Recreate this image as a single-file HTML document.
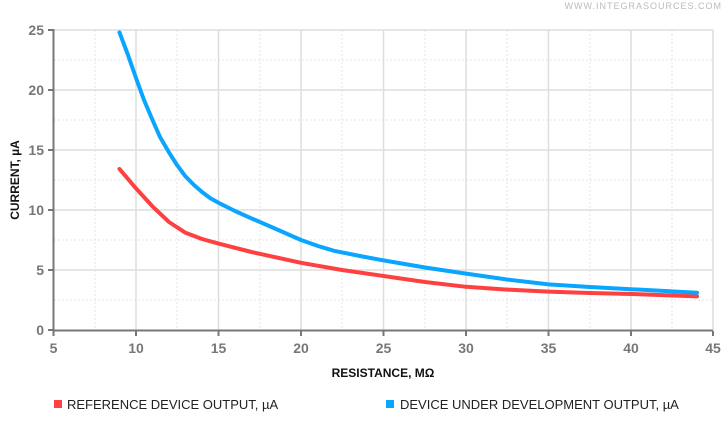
<!DOCTYPE html>
<html><head><meta charset="utf-8"><style>
body{margin:0;background:#fff;width:725px;height:420px;overflow:hidden}
svg text{font-family:"Liberation Sans",sans-serif}
</style></head><body>
<svg width="725" height="420" viewBox="0 0 725 420">
<text x="722" y="9" text-anchor="end" font-size="9" fill="#bbb" letter-spacing="1">WWW.INTEGRASOURCES.COM</text>
<g stroke="#e4e4e4" stroke-width="1" stroke-dasharray="2,2">
<line x1="95" y1="30" x2="95" y2="330"/><line x1="177" y1="30" x2="177" y2="330"/><line x1="260" y1="30" x2="260" y2="330"/><line x1="342" y1="30" x2="342" y2="330"/><line x1="425" y1="30" x2="425" y2="330"/><line x1="507" y1="30" x2="507" y2="330"/><line x1="590" y1="30" x2="590" y2="330"/><line x1="672" y1="30" x2="672" y2="330"/>
<line x1="54" y1="60" x2="713" y2="60"/><line x1="54" y1="120" x2="713" y2="120"/><line x1="54" y1="180" x2="713" y2="180"/><line x1="54" y1="240" x2="713" y2="240"/><line x1="54" y1="300" x2="713" y2="300"/>
</g>
<g stroke="#dedede" stroke-width="1.5">
<line x1="136" y1="30" x2="136" y2="330"/><line x1="218.5" y1="30" x2="218.5" y2="330"/><line x1="301" y1="30" x2="301" y2="330"/><line x1="383.5" y1="30" x2="383.5" y2="330"/><line x1="466" y1="30" x2="466" y2="330"/><line x1="548.5" y1="30" x2="548.5" y2="330"/><line x1="631" y1="30" x2="631" y2="330"/><line x1="713" y1="30" x2="713" y2="330"/>
<line x1="54" y1="30" x2="713" y2="30"/><line x1="54" y1="90" x2="713" y2="90"/><line x1="54" y1="150" x2="713" y2="150"/><line x1="54" y1="210" x2="713" y2="210"/><line x1="54" y1="270" x2="713" y2="270"/>
</g>
<g stroke="#777" stroke-width="2">
<line x1="53.5" y1="29" x2="53.5" y2="331"/><line x1="52.5" y1="330.5" x2="713" y2="330.5"/>
<line x1="48" y1="30" x2="53" y2="30"/><line x1="48" y1="90" x2="53" y2="90"/><line x1="48" y1="150" x2="53" y2="150"/><line x1="48" y1="210" x2="53" y2="210"/><line x1="48" y1="270" x2="53" y2="270"/><line x1="48" y1="330" x2="53" y2="330"/>
<line x1="53.5" y1="331" x2="53.5" y2="336"/><line x1="136" y1="331" x2="136" y2="336"/><line x1="218.5" y1="331" x2="218.5" y2="336"/><line x1="301" y1="331" x2="301" y2="336"/><line x1="383.5" y1="331" x2="383.5" y2="336"/><line x1="466" y1="331" x2="466" y2="336"/><line x1="548.5" y1="331" x2="548.5" y2="336"/><line x1="631" y1="331" x2="631" y2="336"/><line x1="713" y1="331" x2="713" y2="336"/>
</g>
<g font-size="14" font-weight="bold" fill="#777" text-anchor="end">
<text x="44" y="35">25</text><text x="44" y="95">20</text><text x="44" y="155">15</text><text x="44" y="215">10</text><text x="44" y="275">5</text><text x="44" y="335">0</text>
</g>
<g font-size="14" font-weight="bold" fill="#777" text-anchor="middle">
<text x="53.5" y="353">5</text><text x="136" y="353">10</text><text x="218.5" y="353">15</text><text x="301" y="353">20</text><text x="383.5" y="353">25</text><text x="466" y="353">30</text><text x="548.5" y="353">35</text><text x="631" y="353">40</text><text x="713" y="353">45</text>
</g>
<text x="383" y="377" font-size="12" font-weight="bold" fill="#111" text-anchor="middle">RESISTANCE, MΩ</text>
<text transform="translate(19,180) rotate(-90)" font-size="12" font-weight="bold" fill="#111" text-anchor="middle">CURRENT, µA</text>
<polyline fill="none" stroke="#ff4040" stroke-width="4" stroke-linejoin="round" stroke-linecap="round" points="119.5,169 136,188.4 152.5,206.4 169,222 185.5,232.8 202,239 218.5,243.6 251.5,252 301,262.8 342,270 383.5,276 425,282 466,286.8 507,289.6 548.5,291.6 590,293 631,294 697,296.4"/>
<polyline fill="none" stroke="#0aa5ff" stroke-width="4" stroke-linejoin="round" stroke-linecap="round" points="119.5,32.4 128,55 136,78 144,100 152.5,120 160,137 169,152.4 177,165 185.5,176.4 194,185 202,192 210,198 218.5,202.8 235,211 251.5,218.4 276,229 301,240 318,246 334,250.8 360,256 383.5,260.4 425,267.5 466,273.6 507,279.5 548.5,284.4 590,287 631,289.2 697,292.8"/>
<rect x="54" y="400" width="8" height="8" fill="#ff4040"/>
<text x="67" y="409" font-size="13" fill="#222">REFERENCE DEVICE OUTPUT, µA</text>
<rect x="386" y="400" width="8" height="8" fill="#0aa5ff"/>
<text x="400" y="409" font-size="13" fill="#222">DEVICE UNDER DEVELOPMENT OUTPUT, µA</text>
</svg>
</body></html>
